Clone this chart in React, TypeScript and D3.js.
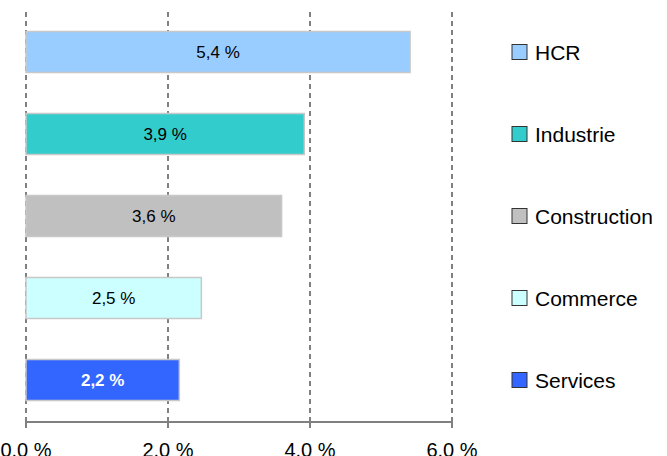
import React from 'react';
import * as d3 from 'd3';

const categories = ['HCR', 'Industrie', 'Construction', 'Commerce', 'Services'];
const values = [5.41, 3.92, 3.6, 2.47, 2.16];
const colors = ['#99ccff', '#33cccc', '#c0c0c0', '#ccffff', '#3366ff'];
const ticks = [0, 2, 4, 6];

const W = 667;
const H = 456;
const FONT = '"Liberation Sans", Arial, sans-serif';

const App: React.FC = () => {
  const x = d3.scaleLinear().domain([0, 6]).range([26, 452]);
  const y = d3.scaleBand().domain(categories).range([11, 421])
    .paddingInner(0.5).paddingOuter(0.25);
  const fmtBar = (v: number) => v.toFixed(1).replace('.', ',') + ' %';
  const fmtTick = (v: number) => v.toFixed(1) + ' %';

  return (
    <svg width={W} height={H} style={{ position: 'absolute', left: 0, top: 0 }} fontFamily={FONT}>
      <rect width={W} height={H} fill="#fff" />
      {ticks.map((t) => (
        <line key={t} x1={x(t)} x2={x(t)} y1={12} y2={421}
          stroke="#808080" strokeWidth={2} strokeDasharray="5,4" />
      ))}
      {categories.map((c, i) => (
        <g key={c}>
          <rect x={x(0)} y={y(c)} width={x(values[i]) - x(0)} height={y.bandwidth()}
            fill={colors[i]} stroke="#c8c8c8" strokeWidth={1.5} />
          <text x={(x(0) + x(values[i])) / 2} y={(y(c) ?? 0) + y.bandwidth() / 2}
            dy="0.35em" textAnchor="middle" fontSize={17}
            fill={i === 4 ? '#fff' : '#000'} fontWeight={i === 4 ? 'bold' : 'normal'}>
            {fmtBar(values[i])}
          </text>
          <rect x={512} y={(y(c) ?? 0) + y.bandwidth() / 2 - 7.5} width={15} height={15}
            fill={colors[i]} stroke="#333" strokeWidth={1} />
          <text x={535} y={(y(c) ?? 0) + y.bandwidth() / 2} dy="0.36em" fontSize={21} fill="#000">
            {c}
          </text>
        </g>
      ))}
      <line x1={x(0)} x2={x(6)} y1={422} y2={422} stroke="#808080" strokeWidth={2} />
      {ticks.map((t) => (
        <g key={'t' + t}>
          <line x1={x(t)} x2={x(t)} y1={418} y2={428} stroke="#808080" strokeWidth={2} />
          <text x={x(t)} y={456.5} textAnchor="middle" fontSize={20} fill="#000">
            {fmtTick(t)}
          </text>
        </g>
      ))}
    </svg>
  );
};

export default App;
